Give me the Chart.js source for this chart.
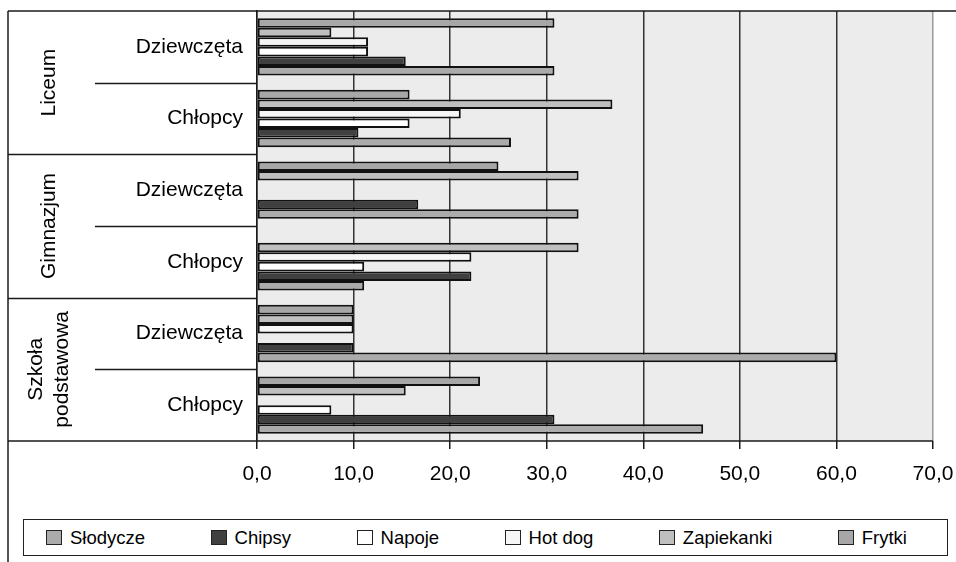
<!DOCTYPE html>
<html lang="pl">
<head>
<meta charset="utf-8">
<title>Spożycie przekąsek</title>
<script src="https://cdn.jsdelivr.net/npm/chart.js@4/dist/chart.umd.min.js"></script>
<style>
  html, body { margin: 0; padding: 0; background: #fff; }
  #wrap { position: relative; width: 956px; height: 562px; }
  #chart { position: absolute; left: 0; top: 0; }
  #legend {
    position: absolute; left: 23px; top: 519px; width: 925px; height: 37px;
    box-sizing: border-box; border: 1px solid #222; background: #fff;
    display: flex; align-items: center; justify-content: space-between;
    padding: 0 40px 0 22px;
    font-family: "Liberation Sans", Arial, sans-serif; font-size: 18.5px; color: #000;
  }
  #legend .item { display: flex; align-items: center; white-space: nowrap; }
  #legend .box { width: 16px; height: 15px; box-sizing: border-box; border: 1.5px solid #222; margin-right: 8px; }
</style>
</head>
<body>
<div id="wrap">
  <canvas id="chart" width="956" height="562"></canvas>
  <div id="legend"></div>
</div>
<script>
// Categories, top to bottom
const categories = ['Dziewczęta', 'Chłopcy', 'Dziewczęta', 'Chłopcy', 'Dziewczęta', 'Chłopcy'];
// School levels, each spanning two categories
const schoolLevels = ['Liceum', 'Gimnazjum', ['Szkoła', 'podstawowa']];

// Percentages per category
const slodycze   = [30.8, 26.3, 33.3, 11.1, 60.0, 46.2];
const chipsy     = [15.4, 10.5, 16.7, 22.2, 10.0, 30.8];
const napoje     = [11.5, 15.8,  0.0, 11.1,  0.0,  7.7];
const hotDog     = [11.5, 21.1,  0.0, 22.2, 10.0,  0.0];
const zapiekanki = [ 7.7, 36.8, 33.3, 33.3, 10.0, 15.4];
const frytki     = [30.8, 15.8, 25.0,  0.0, 10.0, 23.1];

const xTicks = [0, 10, 20, 30, 40, 50, 60, 70];

const FONT = '"Liberation Sans", Arial, sans-serif';

// Series in legend order; drawn reversed so that the first series sits at the bottom of each group
const series = [
  { label: 'Słodycze',   data: slodycze,   color: '#ababab' },
  { label: 'Chipsy',     data: chipsy,     color: '#404040' },
  { label: 'Napoje',     data: napoje,     color: '#ffffff' },
  { label: 'Hot dog',    data: hotDog,     color: '#f6f6f6' },
  { label: 'Zapiekanki', data: zapiekanki, color: '#bfbfbf' },
  { label: 'Frytki',     data: frytki,     color: '#a7a7a7' }
];

const datasets = series.slice().reverse().map(s => ({
  label: s.label,
  data: s.data,
  backgroundColor: s.color,
  borderColor: '#111',
  borderWidth: 2,
  borderSkipped: false,
  categoryPercentage: 0.8,
  barPercentage: 1.0
}));

// Plot background, the label table on the left and the outer rules
const framePlugin = {
  id: 'frame',
  beforeDraw(chart) {
    const { ctx, chartArea: a } = chart;
    ctx.save();
    ctx.fillStyle = '#ececec';
    ctx.fillRect(a.left, a.top, a.right - a.left, a.bottom - a.top);
    ctx.restore();
  },
  afterDraw(chart) {
    const { ctx, chartArea: a } = chart;
    const y = chart.scales.y;
    const tableLeft = 8, subLeft = 95, groupCenterX = 49;
    const edge = i => y.getPixelForValue(i - 0.5);
    const line = (x0, y0, x1, y1) => { ctx.beginPath(); ctx.moveTo(x0, y0); ctx.lineTo(x1, y1); ctx.stroke(); };

    ctx.save();
    ctx.strokeStyle = '#1a1a1a';
    ctx.lineWidth = 1.5;
    line(tableLeft, a.top, chart.width, a.top);
    line(tableLeft, a.top, tableLeft, chart.height);
    for (let i = 1; i < categories.length; i++) {
      const yy = Math.round(edge(i)) + 0.5;
      line(i % 2 === 0 ? tableLeft : subLeft, yy, a.left, yy);
    }
    line(tableLeft, a.bottom, a.right, a.bottom);

    // School level names, rotated
    ctx.fillStyle = '#000';
    ctx.font = '21px ' + FONT;
    ctx.textAlign = 'center';
    ctx.textBaseline = 'middle';
    schoolLevels.forEach((name, g) => {
      const lines = Array.isArray(name) ? name : [name];
      const cy = (edge(2 * g) + edge(2 * g + 2)) / 2;
      const lh = 26;
      ctx.save();
      ctx.translate(groupCenterX, cy);
      ctx.rotate(-Math.PI / 2);
      lines.forEach((t, k) => {
        ctx.fillText(t, 0, (k - (lines.length - 1) / 2) * lh);
      });
      ctx.restore();
    });
    ctx.restore();
  }
};

// Legend rendered as HTML below the plot
const htmlLegendPlugin = {
  id: 'htmlLegend',
  afterUpdate(chart) {
    const host = document.getElementById('legend');
    host.innerHTML = '';
    const items = chart.options.plugins.legend.labels.generateLabels(chart).slice().reverse();
    items.forEach(item => {
      const el = document.createElement('div');
      el.className = 'item';
      const box = document.createElement('span');
      box.className = 'box';
      box.style.background = item.fillStyle;
      const txt = document.createElement('span');
      txt.textContent = item.text;
      el.appendChild(box);
      el.appendChild(txt);
      host.appendChild(el);
    });
  }
};

new Chart(document.getElementById('chart'), {
  type: 'bar',
  data: { labels: categories, datasets },
  plugins: [framePlugin, htmlLegendPlugin],
  options: {
    indexAxis: 'y',
    responsive: false,
    animation: false,
    devicePixelRatio: 1,
    layout: { padding: { top: 11, left: 8, right: 23, bottom: 0 } },
    plugins: {
      legend: { display: false },
      tooltip: { enabled: false }
    },
    scales: {
      x: {
        min: xTicks[0],
        max: xTicks[xTicks.length - 1],
        afterBuildTicks(scale) { scale.ticks = xTicks.map(v => ({ value: v })); },
        afterFit(scale) {
          scale.height = 121;
          scale.paddingLeft = 0;
          scale.paddingRight = 0;
        },
        grid: {
          color: ctx => (ctx.tick && ctx.tick.value === 70) ? '#9a9a9a' : '#333',
          lineWidth: 1.5,
          tickLength: 8,
          tickColor: '#1a1a1a'
        },
        border: { display: false },
        ticks: {
          padding: 13,
          color: '#000',
          font: { family: FONT, size: 21 },
          callback: v => v.toFixed(1).replace('.', ',')
        }
      },
      y: {
        afterFit(scale) {
          scale.width = 249;
          scale.paddingTop = 0;
          scale.paddingBottom = 0;
        },
        grid: { display: false, drawTicks: false },
        border: { display: true, color: '#1a1a1a', width: 1.5 },
        ticks: {
          padding: 14,
          color: '#000',
          font: { family: FONT, size: 21 }
        }
      }
    }
  }
});
</script>
</body>
</html>
